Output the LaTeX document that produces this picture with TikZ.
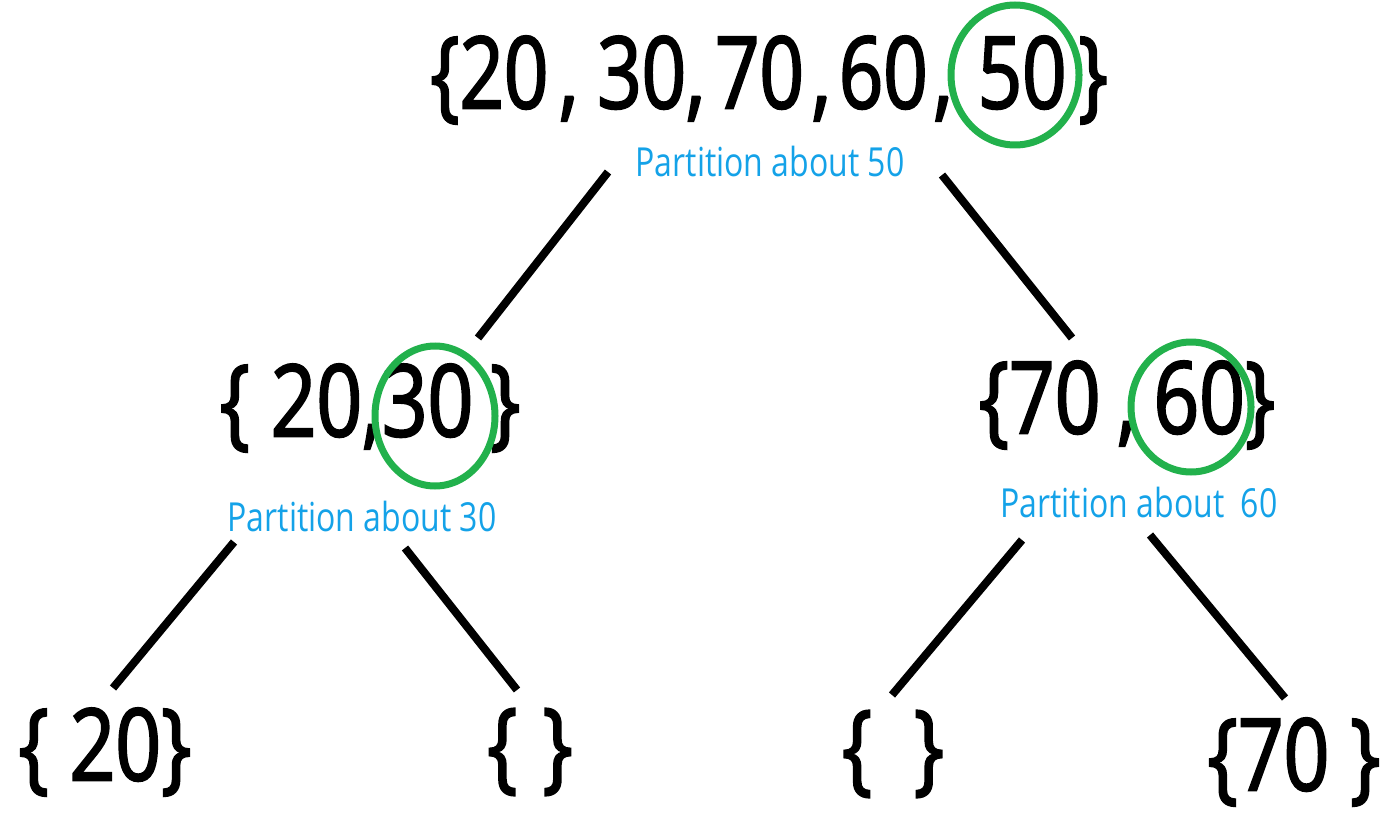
\documentclass[tikz,border=0pt]{standalone}
\usepackage{fontspec}
\setmainfont{Open Sans}[FakeStretch=0.8]
\newfontfamily\bigsetfont{Open Sans}[FakeStretch=0.8, FakeBold=2]
\newfontfamily\topsetfont{Open Sans}[FakeStretch=0.776, FakeBold=2]
\definecolor{pivotgreen}{RGB}{34,177,76}
\definecolor{labelblue}{RGB}{20,162,232}
\usetikzlibrary{shapes.geometric}
\tikzset{
  setnode/.style={inner sep=0pt, font=\bigsetfont\fontsize{100}{100}\selectfont},
  topnode/.style={inner sep=0pt, font=\topsetfont\fontsize{100}{100}\selectfont},
  pivot/.style={draw=pivotgreen, line width=7pt, ellipse, inner sep=0pt},
  plabel/.style={inner sep=0pt, text=labelblue, font=\fontsize{40}{40}\selectfont},
  edge/.style={line width=8pt, black}
}
\begin{document}
\begin{tikzpicture}[x=1pt,y=-1pt]
\useasboundingbox (0,0) rectangle (1396,834);
% top
\node[topnode] (top) at (769,80) {\{20\hspace{11pt},\hspace{19pt}30,\hspace{10pt}70\hspace{8pt},\hspace{8pt}60\hspace{6pt},\hspace{25pt}50\hspace{12pt}\}};
\node[pivot, minimum width=128pt, minimum height=140pt] (p50) at (1015,75) {};
\node[plabel] (l50) at (770,162) {Partition about 50};
% middle
\node[setnode] (ml) at (370,408) {\{ 20,30\,\}};
\node[pivot, minimum width=120pt, minimum height=140pt] (p30) at (435,416) {};
\node[plabel] (l30) at (362,516) {Partition about 30};
\node[setnode] (mr) at (1127,405) {\{70\,,\,60\}};
\node[pivot, minimum width=120pt, minimum height=130pt] (p60) at (1191,407) {};
\node[plabel] (l60) at (1139,502) {Partition about\ \ 60};
% leaves
\node[setnode] (b1) at (105,752) {\{ 20\}};
\node[setnode] (b2) at (530,752) {\{\hspace{25pt}\}};
\node[setnode] (b3) at (893,754) {\{\ \ \}};
\node[setnode] (b4) at (1294,762) {\{70 \}};
% connectors
\coordinate (e1a) at (608,172); \coordinate (e1b) at (478,338);
\coordinate (e2a) at (942,175); \coordinate (e2b) at (1072,338);
\coordinate (e3a) at (234,542); \coordinate (e3b) at (113,688);
\coordinate (e4a) at (405,548); \coordinate (e4b) at (517,690);
\coordinate (e5a) at (1022,540); \coordinate (e5b) at (892,695);
\coordinate (e6a) at (1150,535); \coordinate (e6b) at (1285,698);
\draw[edge] (e1a) -- (e1b);
\draw[edge] (e2a) -- (e2b);
\draw[edge] (e3a) -- (e3b);
\draw[edge] (e4a) -- (e4b);
\draw[edge] (e5a) -- (e5b);
\draw[edge] (e6a) -- (e6b);
\end{tikzpicture}
\end{document}
